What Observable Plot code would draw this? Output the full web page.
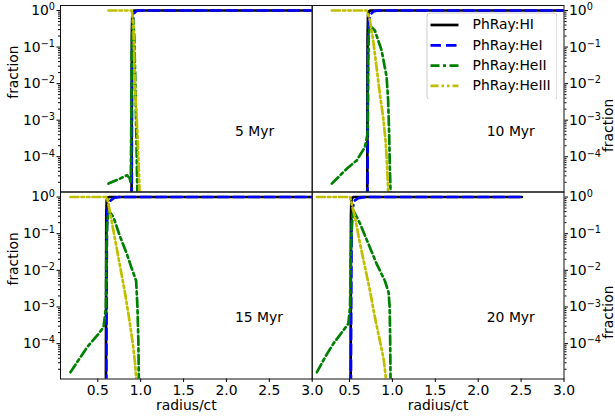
<!DOCTYPE html>
<html>
<head>
<meta charset="utf-8">
<script src="https://cdn.jsdelivr.net/npm/d3@7"></script>
<script src="https://cdn.jsdelivr.net/npm/@observablehq/plot@0.6"></script>
<style>
  html, body { margin: 0; padding: 0; background: #fff; }
  #fig { position: relative; width: 615px; height: 417px; font-family: "DejaVu Sans", sans-serif; }
  #fig svg { position: absolute; left: 0; top: 0; }
</style>
</head>
<body>
<div id="fig"></div>
<script>
// Series names and styles (HI, HeI, HeII, HeIII)
const seriesNames = ["PhRay:HI", "PhRay:HeI", "PhRay:HeII", "PhRay:HeIII"];
const seriesColors = ["black", "#0000ff", "#008000", "#bfbf00"];
const seriesDash = [null, "10.5,5", "9,3.5,3,3.5", "8,3,2.5,3,2.5,3"];

// Snapshot labels and where they are written (radius/ct, fraction)
const panelLabels = ["5 Myr", "10 Myr", "15 Myr", "20 Myr"];
const labelPos = [2.1, 5e-4];

// Axis ticks
const xTicks = [0.5, 1.0, 1.5, 2.0, 2.5, 3.0];
const yMajor = [1e-4, 1e-3, 1e-2, 1e-1, 1];
const xDomain = [0.065, 3.0];
const yDomain = [1.084e-5, 1.371];

// Profiles: [radius/ct, fraction]
// t = 5 Myr
const hi5 = [[0.893,1e-6],[0.898,0.3],[0.903,0.8],[0.912,0.97],[0.93,1.0],[3.0,1.0]];
const hei5 = [[0.895,1e-6],[0.899,0.05],[0.903,0.35],[0.91,0.6],[0.925,0.85],[0.95,0.97],[0.98,1.0],[3.0,1.0]];
const heii5 = [[0.625,1.84e-5],[0.74,2.4e-5],[0.84,3.1e-5],[0.872,2.6e-5],[0.884,1.9e-5],[0.888,1.5e-4],[0.892,3.5e-3],[0.896,8e-2],[0.904,0.47],[0.912,0.6],[0.925,0.2],[0.937,1.3e-2],[0.948,6e-4],[0.957,4e-5],[0.963,6e-6]];
const heiii5 = [[0.625,1.0],[0.897,1.0],[0.915,0.39],[0.932,0.0102],[0.962,4.4e-4],[0.985,1.6e-5],[0.99,5e-6]];

// t = 10 Myr
const hi10 = [[0.706,1e-6],[0.711,0.2],[0.716,0.75],[0.725,0.95],[0.745,1.0],[3.0,1.0]];
const hei10 = [[0.709,1e-6],[0.713,1e-3],[0.717,0.15],[0.722,0.5],[0.74,0.7],[0.76,0.86],[0.79,0.96],[0.83,1.0],[3.0,1.0]];
const heii10 = [[0.294,1.84e-5],[0.468,4.7e-5],[0.584,7.9e-5],[0.68,1.84e-4],[0.708,4e-4],[0.712,6.5e-4],[0.716,2.8e-2],[0.725,0.23],[0.738,0.39],[0.796,0.28],[0.874,0.081],[0.932,0.0155],[0.95,3.5e-3],[0.962,4.3e-4],[0.97,5.2e-5],[0.978,1.1e-5],[0.982,4e-6]];
const heiii10 = [[0.294,1.0],[0.70,1.0],[0.738,0.54],[0.776,0.15],[0.815,0.028],[0.854,5.2e-3],[0.892,1.2e-3],[0.92,2.8e-4],[0.939,5.2e-5],[0.95,1.2e-5],[0.955,5e-6]];

// t = 15 Myr
const hi15 = [[0.594,1e-6],[0.599,0.3],[0.604,0.8],[0.613,0.96],[0.635,1.0],[3.0,1.0]];
const hei15 = [[0.598,1e-6],[0.602,1e-3],[0.606,0.1],[0.612,0.43],[0.64,0.78],[0.69,0.95],[0.75,1.0],[3.0,1.0]];
const heii15 = [[0.181,1.66e-5],[0.375,8e-5],[0.509,1.86e-4],[0.567,2.8e-4],[0.595,1e-3],[0.599,2.3e-2],[0.607,0.17],[0.625,0.43],[0.683,0.28],[0.761,0.081],[0.839,0.028],[0.897,0.011],[0.947,5.2e-3],[0.962,1e-3],[0.973,1.2e-4],[0.978,1.2e-5],[0.98,5e-6]];
const heiii15 = [[0.181,1.0],[0.607,1.0],[0.645,0.35],[0.703,0.066],[0.761,0.0123],[0.819,2.3e-3],[0.869,4.3e-4],[0.908,1e-4],[0.935,2.8e-5],[0.947,1.2e-5],[0.95,5e-6]];

// t = 20 Myr
const hi20 = [[0.512,1e-6],[0.517,0.3],[0.522,0.8],[0.531,0.96],[0.55,1.0],[2.51,1.0]];
const hei20 = [[0.515,1e-6],[0.519,1e-3],[0.524,0.1],[0.535,0.5],[0.56,0.8],[0.6,0.93],[0.65,0.98],[0.7,1.0],[2.51,1.0]];
const heii20 = [[0.12,1.66e-5],[0.216,4.3e-5],[0.312,1e-4],[0.428,2.3e-4],[0.486,3.5e-4],[0.506,1e-3],[0.514,2.3e-2],[0.526,0.19],[0.544,0.43],[0.622,0.19],[0.718,0.054],[0.816,0.015],[0.912,5.2e-3],[0.955,2.5e-3],[0.968,1e-3],[0.974,1.2e-4],[0.978,1.2e-5],[0.98,5e-6]];
const heiii20 = [[0.12,1.0],[0.506,1.0],[0.564,0.28],[0.622,0.054],[0.68,0.0123],[0.738,2.8e-3],[0.796,5.2e-4],[0.854,1.2e-4],[0.9,3.5e-5],[0.923,1.2e-5],[0.93,5e-6]];

// ---- layout ----
const W = 615, H = 417;
const FS = 13.9;
const colL = [60, 311.7], colR = [311.7, 563.5];
const rowT = [5, 191.5], rowB = [191.5, 378.5];

const panels = [
  {series: [hi5, hei5, heii5, heiii5], label: panelLabels[0], cols: colL, rows: rowT, side: "left", bottomAxis: false},
  {series: [hi10, hei10, heii10, heiii10], label: panelLabels[1], cols: colR, rows: rowT, side: "right", bottomAxis: false},
  {series: [hi15, hei15, heii15, heiii15], label: panelLabels[2], cols: colL, rows: rowB, side: "left", bottomAxis: true},
  {series: [hi20, hei20, heii20, heiii20], label: panelLabels[3], cols: colR, rows: rowB, side: "right", bottomAxis: true}
];

// minor log ticks (2..9 per decade) inside the y domain
const yMinor = [];
for (const base of [1e-5, 1e-4, 1e-3, 1e-2, 1e-1]) {
  for (let m = 2; m <= 9; m++) {
    const v = m * base;
    if (v >= yDomain[0] && v <= yDomain[1]) yMinor.push(v);
  }
}

const powFormat = d => "10^" + String(Math.round(Math.log10(d))).replace("-", "\u2212");
const fmtX = d3.format(".1f");

const fig = document.getElementById("fig");

function superscripts(svg) {
  svg.querySelectorAll("text").forEach(t => {
    const m = t.textContent.match(/^10\^(.+)$/);
    if (m) {
      t.textContent = "10";
      const ts = document.createElementNS("http://www.w3.org/2000/svg", "tspan");
      ts.setAttribute("dy", "-0.48em");
      ts.setAttribute("font-size", "0.7em");
      ts.textContent = m[1];
      t.appendChild(ts);
    }
  });
}

for (const p of panels) {
  const marks = [];
  p.series.forEach((data, i) => {
    marks.push(Plot.line(data, {
      x: d => d[0], y: d => d[1],
      stroke: seriesColors[i], strokeWidth: 2.7,
      strokeDasharray: seriesDash[i] ?? undefined,
      strokeLinejoin: "round",
      clip: true
    }));
  });
  marks.push(Plot.frame({stroke: "#111", strokeWidth: 1}));
  marks.push(Plot.axisY(yMajor, {anchor: p.side, tickSize: 3.5, tickPadding: p.side === "left" ? 2 : 1.5, tickFormat: powFormat, label: null, fontSize: FS}));
  marks.push(Plot.axisY(yMinor, {anchor: p.side, tickSize: 2, tickFormat: () => "", label: null}));
  marks.push(Plot.text(["fraction"], {frameAnchor: p.side, lineAnchor: "middle", rotate: -90, dx: p.side === "left" ? -47 : 44.5, fontSize: FS}));
  if (p.bottomAxis) {
    marks.push(Plot.axisX(xTicks, {anchor: "bottom", tickSize: 3.5, tickPadding: 2.5, tickFormat: fmtX, label: null, fontSize: FS}));
    marks.push(Plot.text(["radius/ct"], {frameAnchor: "bottom", lineAnchor: "middle", dy: 27, fontSize: FS}));
  }
  marks.push(Plot.text([p.label], {x: labelPos[0], y: labelPos[1], textAnchor: "start", fontSize: FS}));

  const svg = Plot.plot({
    width: W, height: H,
    marginLeft: p.cols[0], marginRight: W - p.cols[1],
    marginTop: p.rows[0], marginBottom: H - p.rows[1],
    style: {background: "transparent", fontFamily: "'DejaVu Sans', sans-serif", fontSize: FS + "px", color: "black", overflow: "visible"},
    x: {type: "linear", domain: xDomain, axis: null},
    y: {type: "log", domain: yDomain, axis: null},
    marks
  });
  superscripts(svg);
  fig.append(svg);
}

// ---- legend (upper right of the 10 Myr panel) ----
const legendRows = seriesNames.map((name, i) => ({name, i}));
const legendBox = {left: 425.5, top: 11.5, width: 131, height: 87.5};
const rowY = i => 12.5 + i * 20.3;
const legendMarks = [
  Plot.frame({rx: 3, stroke: "#cccccc", fill: "white", fillOpacity: 0.85, inset: 0.5})
];
legendRows.forEach(r => {
  legendMarks.push(Plot.ruleY([r], {
    y: d => rowY(d.i), x1: 4.5, x2: 32.5,
    stroke: seriesColors[r.i], strokeWidth: 2.7,
    strokeDasharray: seriesDash[r.i] ?? undefined
  }));
});
legendMarks.push(Plot.text(legendRows, {x: 46, y: d => rowY(d.i), text: d => d.name, textAnchor: "start", fontSize: FS}));

const legend = Plot.plot({
  width: legendBox.width, height: legendBox.height,
  margin: 0,
  style: {background: "transparent", fontFamily: "'DejaVu Sans', sans-serif", fontSize: FS + "px", color: "black"},
  x: {type: "identity", axis: null},
  y: {type: "identity", axis: null},
  marks: legendMarks
});
legend.style.left = legendBox.left + "px";
legend.style.top = legendBox.top + "px";
fig.append(legend);
</script>
</body>
</html>
